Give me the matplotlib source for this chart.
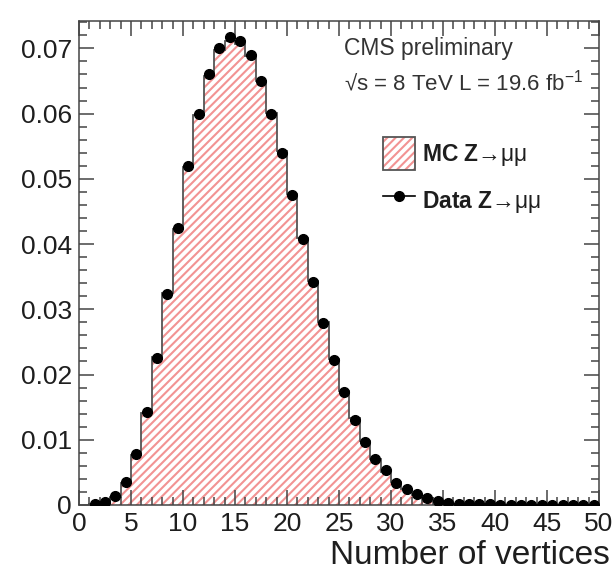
import matplotlib
matplotlib.use("Agg")
import matplotlib.pyplot as plt
from matplotlib.patches import Patch
from matplotlib.lines import Line2D
from matplotlib.ticker import MultipleLocator, FuncFormatter
import numpy as np

plt.rcParams['font.family'] = ['Liberation Sans', 'DejaVu Sans']
plt.rcParams['mathtext.fontset'] = 'custom'
plt.rcParams['mathtext.rm'] = 'Liberation Sans'
plt.rcParams['mathtext.bf'] = 'Liberation Sans:bold'
plt.rcParams['mathtext.it'] = 'Liberation Sans:italic'
plt.rcParams['hatch.linewidth'] = 1.5

# bin edges 1..50, one entry per bin
edges = np.arange(1, 51)
centers = edges[:-1] + 0.5

data = [0.0001, 0.0004, 0.0014, 0.0035, 0.0078, 0.0142, 0.0226, 0.0324,
        0.0424, 0.0520, 0.0600, 0.0661, 0.0700, 0.0717, 0.0711, 0.0690,
        0.0650, 0.0600, 0.0540, 0.0475, 0.0408, 0.0342, 0.0279, 0.0222,
        0.0173, 0.0131, 0.0096, 0.0071, 0.0053, 0.0034, 0.0025, 0.0017,
        0.0011, 0.0006, 0.0003, 0.0002, 0.0001, 0.0001, 0.0001, 0.0,
        0.0, 0.0, 0.0, 0.0, 0.0, 0.0, 0.0, 0.0, 0.0]

mc = [0.0001, 0.0003, 0.0012, 0.0034, 0.0077, 0.0141, 0.0227, 0.0325,
      0.0423, 0.0518, 0.0598, 0.0658, 0.0697, 0.0711, 0.0707, 0.0688,
      0.0650, 0.0601, 0.0542, 0.0477, 0.0410, 0.0344, 0.0281, 0.0224,
      0.0175, 0.0133, 0.0098, 0.0071, 0.0051, 0.0035, 0.0024, 0.0016,
      0.0010, 0.0006, 0.0004, 0.0002, 0.0001, 0.0001, 0.0, 0.0,
      0.0, 0.0, 0.0, 0.0, 0.0, 0.0, 0.0, 0.0, 0.0]

hatch_col = '#f29393'
line_col = '#555555'
frame_col = '#444444'
text_col = '#1e1e1e'

fig = plt.figure(figsize=(6.15, 5.73), dpi=100)
ax = fig.add_axes([79/615, 68/573, 520/615, 484/573])

# MC histogram: hatched fill + grey outline
ax.stairs(mc, edges, fill=True, facecolor='white', edgecolor=hatch_col,
          hatch='////', linewidth=0)
ax.stairs(mc, edges, color=line_col, linewidth=1.3)

# data points
ax.plot(centers, data, 'o', color='black', markersize=7, zorder=5)

ax.set_xlim(0, 50)
ax.set_ylim(0, 0.0742)

ax.xaxis.set_major_locator(MultipleLocator(5))
ax.xaxis.set_minor_locator(MultipleLocator(1))
ax.yaxis.set_major_locator(MultipleLocator(0.01))
ax.yaxis.set_minor_locator(MultipleLocator(0.002))
ax.yaxis.set_major_formatter(FuncFormatter(lambda v, p: '0' if abs(v) < 1e-9 else f'{v:.2f}'))

ax.tick_params(which='both', direction='in', top=True, right=True,
               color=frame_col, width=1.1, labelsize=19, labelcolor=text_col)
ax.tick_params(which='major', length=11)
ax.tick_params(which='minor', length=5.5)
ax.tick_params(axis='x', pad=5)
ax.tick_params(axis='y', pad=5)
for s in ax.spines.values():
    s.set_color(frame_col)
    s.set_linewidth(1.1)

ax.set_xlabel('Number of vertices', fontsize=24, color=text_col, loc='right')
ax.xaxis.set_label_coords(1.02, -0.072)

ax.text(0.51, 0.944, 'CMS preliminary', transform=ax.transAxes,
        fontsize=16.5, color='#333333', va='center', ha='left')
ax.text(0.51, 0.874, '√s = 8 TeV L = 19.6 fb$^{-1}$', transform=ax.transAxes,
        fontsize=16, color='#333333', va='center', ha='left')

mc_handle = (Patch(facecolor='white', edgecolor=hatch_col, hatch='////', linewidth=0),
             Patch(facecolor='none', edgecolor=line_col, linewidth=1.3))
data_handle = Line2D([], [], color='black', marker='o', markersize=7, linewidth=1.2)
ax.legend([mc_handle, data_handle],
          [r'$\mathbf{MC\ Z}$→μμ', r'$\mathbf{Data\ Z}$→μμ'],
          loc='upper left', bbox_to_anchor=(0.584, 0.761), frameon=False,
          fontsize=16.5, borderpad=0, borderaxespad=0, handlelength=1.4,
          handleheight=1.84, handletextpad=0.3, labelspacing=0.61,
          labelcolor=text_col)

fig.savefig('out.png', dpi=100)
